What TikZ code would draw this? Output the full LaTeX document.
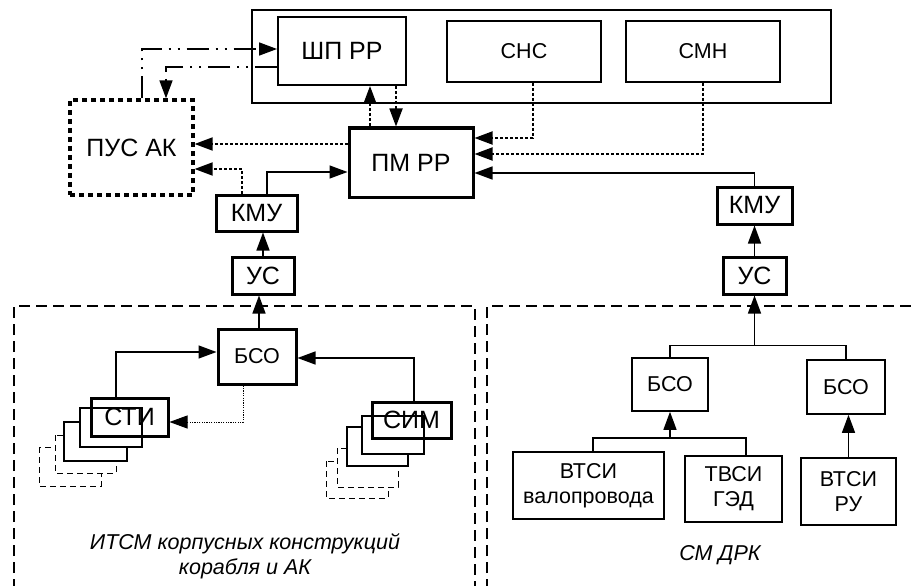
\documentclass[tikz,border=0pt]{standalone}
\usepackage{fontspec}
\setmainfont{Liberation Sans}
\usetikzlibrary{arrows,arrows.meta,positioning,calc}
\newcommand{\bigtxt}{\fontsize{25}{29}\selectfont}
\newcommand{\midtxt}{\fontsize{21.5}{25}\selectfont}

\begin{document}
\begin{tikzpicture}[
    x=1pt, y=-1pt,
    box/.style={
        rectangle, draw, line width=2pt, inner sep=0pt,
        align=center, font=\midtxt
    },
    thickbox/.style={box, line width=3pt, font=\bigtxt},
    thinbox/.style={box, line width=1.6pt},
    pusbox/.style={box, line width=3.2pt, dash pattern=on 5pt off 4pt, font=\bigtxt},
    backbox/.style={draw, fill=white, line width=1.6pt},
    ghostbox/.style={draw, fill=white, line width=1pt, dash pattern=on 6pt off 4pt},
    zone/.style={draw, line width=1.6pt, dash pattern=on 11pt off 6pt},
    arrow/.style={-{Triangle[length=18pt,width=13pt]}, line width=1.4pt},
    dotarrow/.style={arrow, line width=1.8pt, dash pattern=on 3pt off 2pt},
    finearrow/.style={arrow, line width=0.9pt, dash pattern=on 1.2pt off 1.2pt},
    chainarrow/.style={arrow, line width=1.6pt,
        dash pattern=on 22pt off 7pt on 2pt off 7pt on 2pt off 7pt}
]
\useasboundingbox (0,0) rectangle (914,586);

% Top group
\node[draw, line width=1.2pt, inner sep=0pt, minimum width=579pt, minimum height=93pt] (frame) at (541.5,56.5) {};
\node[box, font=\bigtxt, minimum width=128pt, minimum height=68pt] (shp) at (342,51) {ШП РР};
\node[box, minimum width=154pt, minimum height=61pt] (snc) at (524,51.5) {СНС};
\node[box, minimum width=154pt, minimum height=61pt] (smn) at (703,51.5) {СМН};

% Centre
\node[pusbox, minimum width=123pt, minimum height=95pt] (pus) at (131.5,147.5) {ПУС АК};
\node[thickbox, minimum width=124pt, minimum height=69pt] (pm) at (411,162.5) {ПМ РР};

% Left branch
\node[thickbox, minimum width=81pt, minimum height=36pt] (kmuL) at (256.5,213) {КМУ};
\node[thickbox, minimum width=62pt, minimum height=37pt] (usL) at (263,275.5) {УС};
\node[thickbox, font=\midtxt, minimum width=78pt, minimum height=55pt] (bsoL) at (257,356.5) {БСО};

% Right branch
\node[thickbox, minimum width=75pt, minimum height=37pt] (kmuR) at (754.5,205.5) {КМУ};
\node[thickbox, minimum width=63pt, minimum height=37pt] (usR) at (754.5,275.5) {УС};

% Zones
\draw[zone] (14,590) -- (14,306) -- (475,306) -- (475,590);
\draw[zone] (487,590) -- (487,306) -- (918,306);

% Sensor stacks
\draw[ghostbox] (39,447) rectangle (101,486);
\draw[ghostbox] (55,435) rectangle (116,473);
\draw[backbox] (64,422) rectangle (127,461);
\draw[backbox] (80,408) rectangle (142,447);
\node[thickbox, minimum width=77pt, minimum height=38pt] (sti) at (129.5,417) {СТИ};

\draw[ghostbox] (326,461) rectangle (388,498);
\draw[ghostbox] (337,448) rectangle (398,487);
\draw[backbox] (347,427) rectangle (408,466);
\draw[backbox] (362,416) rectangle (424,454);
\node[thickbox, minimum width=79pt, minimum height=36pt] (sim) at (411.5,420) {СИМ};

% DRK part
\node[thinbox, minimum width=76pt, minimum height=53pt] (bso1) at (670,384.5) {БСО};
\node[thinbox, minimum width=78pt, minimum height=54pt] (bso2) at (846,387) {БСО};
\node[thinbox, minimum width=151pt, minimum height=67pt] (vtsiV) at (588.5,485.5) {ВТСИ\\валопровода};
\node[thinbox, minimum width=97pt, minimum height=66pt] (tvsi) at (733.5,489) {ТВСИ\\ГЭД};
\node[thinbox, minimum width=95pt, minimum height=67pt] (vtsiR) at (848.5,491.5) {ВТСИ\\РУ};

% Labels
\node[font=\midtxt\itshape, align=center] (itsm) at (245,556) {ИТСМ корпусных конструкций\\корабля и АК};
\node[font=\midtxt\itshape] (drk) at (720,555) {СМ ДРК};

% Dash-dot links
\draw[chainarrow] ([xshift=10.5pt]pus.north) |- ([yshift=2pt]shp.west);
\draw[chainarrow] ([yshift=-16pt]shp.west) -| ([xshift=34.5pt]pus.north);

% Dotted links
\draw[dotarrow] ([xshift=-41pt]pm.north) -- ([xshift=-41pt]pm.north |- shp.south);
\draw[dotarrow] ([xshift=-15pt]pm.north |- shp.south) -- ([xshift=-15pt]pm.north);
\draw[dotarrow] ([yshift=18.5pt]pm.west) -- ([yshift=18.5pt]pm.west -| pus.east);
\draw[dotarrow] ([xshift=-14.5pt]kmuL.north) |- ([yshift=-21.5pt]pus.east);
\draw[dotarrow] ([xshift=9pt]snc.south) |- ([yshift=24.5pt]pm.east);
\draw[dotarrow] (smn.south) |- ([yshift=8.5pt]pm.east);

% Solid links
\draw[arrow] ([xshift=10.5pt]kmuL.north) |- ([yshift=-9.5pt]pm.west);
\draw[arrow] (usL.north) -- (usL.north |- kmuL.south);
\draw[arrow] ([xshift=2pt]bsoL.north) -- ([xshift=2pt]bsoL.north |- usL.south);
\draw[arrow] (kmuR.north) |- ([yshift=-10.5pt]pm.east);
\draw[arrow] (usR.north) -- (kmuR.south);

\draw[arrow] ([xshift=-13.5pt]sti.north) |- ([yshift=4.5pt]bsoL.west);
\draw[arrow] ([xshift=2.5pt]sim.north) |- ([yshift=-1.5pt]bsoL.east);
\draw[finearrow] ([xshift=-14pt]bsoL.south) |- ([yshift=-5pt]sti.east);

% Tree of DRK
\coordinate (busR) at ([yshift=-50pt]usR.south);
\draw[line width=1.4pt] (bso1.north) |- (busR) -| (bso2.north);
\draw[arrow] (busR) -- (usR.south);
\coordinate (busV) at ([yshift=-26pt]bso1.south);
\draw[line width=1.4pt] ([xshift=4.5pt]vtsiV.north) |- (busV) -| ([xshift=12.5pt]tvsi.north);
\draw[arrow] (busV) -- (bso1.south);
\draw[arrow] (vtsiR.north) -- (vtsiR.north |- bso2.south);

\end{tikzpicture}
\end{document}
